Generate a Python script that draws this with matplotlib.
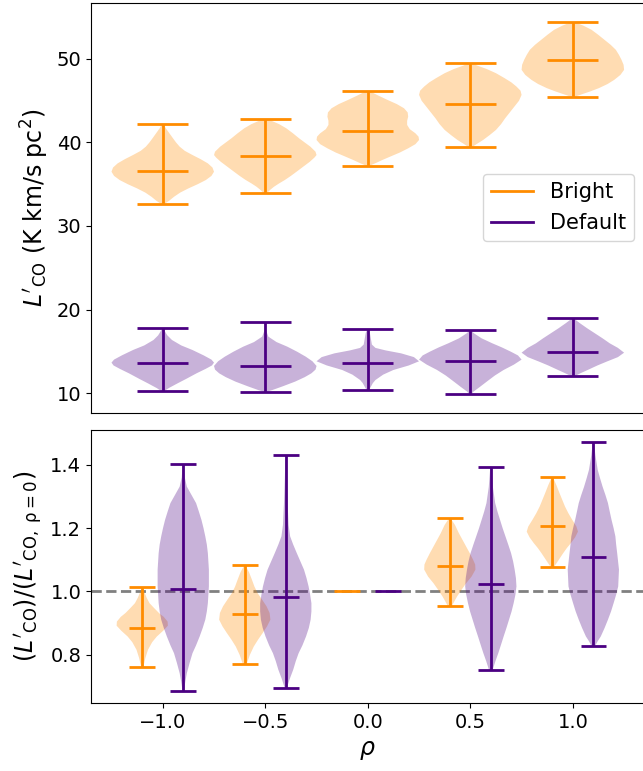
import matplotlib
matplotlib.use("Agg")
import matplotlib.pyplot as plt
from matplotlib.lines import Line2D

ORANGE = "darkorange"
PURPLE = "indigo"

rho = [-1.0, -0.5, 0.0, 0.5, 1.0]

# --- L'CO per rho: (min, max, mean) and violin outline (value, relative width)
bright_min = [32.64, 33.92, 37.19, 39.47, 45.49]
bright_max = [42.26, 42.82, 46.21, 49.48, 54.44]
bright_mean = [36.63, 38.43, 41.42, 44.62, 49.92]
bright_profile = [
    [(32.64, 0.03), (33.0, 0.12), (33.5, 0.22), (34.0, 0.34), (34.5, 0.50),
     (35.0, 0.68), (35.5, 0.84), (36.0, 0.95), (36.5, 1.0), (37.0, 0.97),
     (37.5, 0.88), (38.0, 0.74), (38.5, 0.58), (39.0, 0.43), (39.5, 0.33),
     (40.0, 0.26), (40.5, 0.20), (41.1, 0.13), (41.7, 0.06), (42.26, 0.01)],
    [(33.92, 0.03), (34.3, 0.09), (34.7, 0.17), (35.1, 0.27), (35.5, 0.38),
     (36.0, 0.50), (36.5, 0.61), (37.1, 0.74), (37.7, 0.87), (38.2, 0.96),
     (38.5, 1.0), (38.9, 0.98), (39.5, 0.88), (40.0, 0.77), (40.5, 0.66),
     (41.1, 0.54), (41.7, 0.41), (42.2, 0.27), (42.6, 0.12), (42.82, 0.02)],
    [(37.19, 0.02), (37.5, 0.14), (37.9, 0.28), (38.3, 0.43), (38.8, 0.62),
     (39.3, 0.78), (39.8, 0.92), (40.3, 0.99), (40.7, 0.98), (41.1, 0.92),
     (41.6, 0.81), (42.1, 0.76), (42.6, 0.76), (43.1, 0.78), (43.6, 0.77),
     (44.1, 0.70), (44.6, 0.56), (45.1, 0.38), (45.6, 0.21), (46.0, 0.08),
     (46.21, 0.02)],
    [(39.47, 0.04), (39.8, 0.12), (40.3, 0.25), (40.9, 0.38), (41.5, 0.50),
     (42.2, 0.60), (42.9, 0.68), (43.6, 0.77), (44.3, 0.86), (45.0, 0.95),
     (45.7, 1.0), (46.2, 0.98), (46.7, 0.90), (47.2, 0.80), (47.7, 0.67),
     (48.3, 0.50), (48.8, 0.32), (49.2, 0.14), (49.48, 0.03)],
    [(45.49, 0.04), (45.7, 0.14), (46.1, 0.33), (46.5, 0.50), (47.0, 0.67),
     (47.5, 0.80), (48.1, 0.92), (48.7, 0.99), (49.3, 0.98), (49.9, 0.94),
     (50.5, 0.89), (51.1, 0.83), (51.7, 0.73), (52.3, 0.61), (52.9, 0.49),
     (53.5, 0.36), (54.0, 0.20), (54.44, 0.02)],
]

default_min = [10.24, 10.16, 10.32, 9.84, 12.04]
default_max = [17.75, 18.55, 17.63, 17.51, 18.95]
default_mean = [13.64, 13.24, 13.64, 13.84, 14.95]
default_profile = [
    [(10.24, 0.03), (10.6, 0.12), (11.16, 0.29), (11.7, 0.46), (12.36, 0.66),
     (12.9, 0.84), (13.3, 0.96), (13.64, 1.0), (14.0, 0.95), (14.5, 0.80),
     (15.15, 0.58), (15.7, 0.36), (16.35, 0.18), (16.9, 0.09), (17.4, 0.04),
     (17.75, 0.01)],
    [(10.16, 0.03), (10.36, 0.14), (10.8, 0.34), (11.36, 0.58), (11.9, 0.77),
     (12.36, 0.90), (12.8, 0.98), (13.24, 1.0), (13.8, 0.92), (14.35, 0.79),
     (14.95, 0.62), (15.55, 0.43), (16.1, 0.22), (16.75, 0.06), (17.5, 0.015),
     (18.55, 0.005)],
    [(10.32, 0.02), (10.76, 0.06), (11.2, 0.10), (11.56, 0.15), (12.2, 0.30),
     (12.76, 0.50), (13.3, 0.80), (13.8, 1.0), (14.3, 0.90), (14.75, 0.65),
     (15.1, 0.35), (15.4, 0.15), (15.8, 0.08), (16.5, 0.06), (17.2, 0.04),
     (17.63, 0.01)],
    [(9.84, 0.02), (10.16, 0.06), (10.7, 0.18), (11.36, 0.32), (12.1, 0.48),
     (12.76, 0.65), (13.4, 0.85), (14.0, 1.0), (14.5, 0.93), (14.95, 0.79),
     (15.45, 0.62), (15.95, 0.43), (16.55, 0.22), (17.15, 0.07), (17.51, 0.01)],
    [(12.04, 0.04), (12.4, 0.16), (12.76, 0.29), (13.3, 0.48), (13.76, 0.66),
     (14.3, 0.88), (14.83, 1.0), (15.4, 0.88), (15.95, 0.72), (16.55, 0.58),
     (17.15, 0.43), (17.75, 0.28), (18.35, 0.14), (18.95, 0.01)],
]

# --- ratio to the rho = 0 run
ratio_pos_bright = [-1.1, -0.6, 0.4, 0.9]
ratio_pos_default = [-0.9, -0.4, 0.6, 1.1]
ratio_zero = [1.0, 1.0]
ratio_zero_pos = [-0.1, 0.1]

rb_min = [0.762, 0.770, 0.953, 1.078]
rb_max = [1.013, 1.083, 1.232, 1.361]
rb_mean = [0.885, 0.930, 1.079, 1.208]
rb_profile = [
    [(0.762, 0.04), (0.79, 0.12), (0.816, 0.22), (0.84, 0.38), (0.858, 0.56),
     (0.876, 0.80), (0.892, 0.98), (0.905, 0.97), (0.92, 0.82), (0.932, 0.64),
     (0.948, 0.45), (0.963, 0.28), (0.98, 0.17), (1.00, 0.07), (1.013, 0.01)],
    [(0.770, 0.07), (0.80, 0.20), (0.826, 0.35), (0.848, 0.52), (0.869, 0.70),
     (0.89, 0.87), (0.911, 1.0), (0.932, 0.97), (0.953, 0.85), (0.975, 0.67),
     (0.995, 0.50), (1.015, 0.38), (1.037, 0.28), (1.06, 0.17), (1.083, 0.02)],
    [(0.953, 0.07), (0.968, 0.17), (0.984, 0.28), (1.005, 0.45), (1.026, 0.63),
     (1.047, 0.84), (1.069, 0.99), (1.085, 0.98), (1.100, 0.90), (1.121, 0.77),
     (1.142, 0.63), (1.163, 0.49), (1.184, 0.35), (1.21, 0.20), (1.232, 0.02)],
    [(1.078, 0.07), (1.10, 0.25), (1.121, 0.42), (1.137, 0.56), (1.153, 0.72),
     (1.171, 0.88), (1.189, 0.99), (1.205, 0.93), (1.226, 0.77), (1.247, 0.62),
     (1.268, 0.49), (1.29, 0.38), (1.310, 0.28), (1.335, 0.16), (1.361, 0.02)],
]

rd_min = [0.687, 0.695, 0.752, 0.828]
rd_max = [1.402, 1.430, 1.394, 1.472]
rd_mean = [1.008, 0.981, 1.023, 1.109]
rd_profile = [
    [(0.687, 0.03), (0.715, 0.08), (0.742, 0.14), (0.775, 0.25), (0.805, 0.36),
     (0.83, 0.50), (0.858, 0.64), (0.885, 0.76), (0.911, 0.86), (0.937, 0.92),
     (0.963, 0.96), (1.016, 1.0), (1.069, 1.0), (1.121, 0.96), (1.148, 0.92),
     (1.174, 0.86), (1.20, 0.79), (1.226, 0.71), (1.252, 0.61), (1.279, 0.50),
     (1.305, 0.32), (1.331, 0.14), (1.36, 0.06), (1.402, 0.02)],
    [(0.695, 0.04), (0.725, 0.16), (0.753, 0.29), (0.78, 0.39), (0.805, 0.50),
     (0.83, 0.65), (0.858, 0.79), (0.885, 0.90), (0.911, 0.97), (0.937, 1.0),
     (0.963, 1.0), (0.99, 0.95), (1.016, 0.89), (1.042, 0.81), (1.069, 0.71),
     (1.095, 0.57), (1.121, 0.43), (1.148, 0.29), (1.174, 0.17), (1.21, 0.11),
     (1.279, 0.07), (1.35, 0.04), (1.43, 0.01)],
    [(0.752, 0.07), (0.78, 0.18), (0.805, 0.29), (0.83, 0.39), (0.858, 0.50),
     (0.885, 0.61), (0.911, 0.71), (0.937, 0.81), (0.963, 0.89), (0.99, 0.96),
     (1.016, 1.0), (1.042, 0.98), (1.069, 0.93), (1.095, 0.87), (1.121, 0.79),
     (1.148, 0.68), (1.174, 0.57), (1.20, 0.46), (1.226, 0.36), (1.252, 0.26),
     (1.279, 0.17), (1.33, 0.08), (1.394, 0.02)],
    [(0.828, 0.07), (0.843, 0.17), (0.858, 0.29), (0.885, 0.44), (0.911, 0.57),
     (0.937, 0.69), (0.963, 0.79), (0.99, 0.89), (1.016, 0.97), (1.069, 1.0),
     (1.121, 0.93), (1.148, 0.89), (1.174, 0.86), (1.20, 0.79), (1.226, 0.71),
     (1.252, 0.64), (1.279, 0.57), (1.305, 0.47), (1.331, 0.36), (1.358, 0.26),
     (1.384, 0.17), (1.43, 0.08), (1.472, 0.02)],
]


def make_stats(profiles, mins, maxs, means):
    stats = []
    for prof, lo, hi, mu in zip(profiles, mins, maxs, means):
        coords = [p[0] for p in prof]
        vals = [p[1] for p in prof]
        stats.append(dict(coords=coords, vals=vals, mean=mu, median=mu,
                          min=lo, max=hi))
    return stats


def draw_violins(ax, stats, positions, width, color):
    parts = ax.violin(stats, positions=positions, widths=width,
                      showmeans=True, showextrema=True, showmedians=False)
    for body in parts["bodies"]:
        body.set_facecolor(color)
        body.set_edgecolor("none")
        body.set_alpha(0.3)
    for key in ("cmeans", "cmins", "cmaxes", "cbars"):
        parts[key].set_color(color)
        parts[key].set_linewidth(2)
    return parts


plt.rcParams["font.size"] = 14
fig = plt.figure(figsize=(6.43, 7.71), dpi=100)
ax1 = fig.add_axes([0.1415, 0.4647, 0.861, 0.5318])
ax2 = fig.add_axes([0.1415, 0.0878, 0.861, 0.3546])

# top panel: absolute luminosity
draw_violins(ax1, make_stats(bright_profile, bright_min, bright_max, bright_mean),
             rho, 0.5, ORANGE)
draw_violins(ax1, make_stats(default_profile, default_min, default_max, default_mean),
             rho, 0.5, PURPLE)
ax1.set_xlim(-1.35, 1.35)
ax1.set_ylim(7.64, 56.74)
ax1.set_xticks([])
ax1.set_yticks([10, 20, 30, 40, 50])
ax1.set_ylabel(r"$L'_{\rm CO}$ (K km/s pc$^2$)", fontsize=17)
handles = [Line2D([], [], color=ORANGE, lw=2), Line2D([], [], color=PURPLE, lw=2)]
ax1.legend(handles, ["Bright", "Default"], loc="center right", fontsize=15)

# bottom panel: ratio to rho = 0
ax2.axhline(1.0, color="gray", ls="--", lw=2, zorder=0.5)
draw_violins(ax2, make_stats(rb_profile, rb_min, rb_max, rb_mean),
             ratio_pos_bright, 0.25, ORANGE)
draw_violins(ax2, make_stats(rd_profile, rd_min, rd_max, rd_mean),
             ratio_pos_default, 0.25, PURPLE)
# rho = 0 is the reference itself, so its spread collapses to a single value
for x, y, c in zip(ratio_zero_pos, ratio_zero, [ORANGE, PURPLE]):
    ax2.hlines(y, x - 0.0625, x + 0.0625, color=c, lw=2)
ax2.set_xlim(-1.35, 1.35)
ax2.set_ylim(0.647, 1.51)
ax2.set_xticks([-1.0, -0.5, 0.0, 0.5, 1.0])
ax2.set_yticks([0.8, 1.0, 1.2, 1.4])
ax2.set_xlabel(r"$\rho$", fontsize=17)
ax2.set_ylabel(r"$(L'_{\rm CO})/(L'_{\rm CO,\ \rho=0})$", fontsize=17)

fig.savefig("out.png", dpi=100)
